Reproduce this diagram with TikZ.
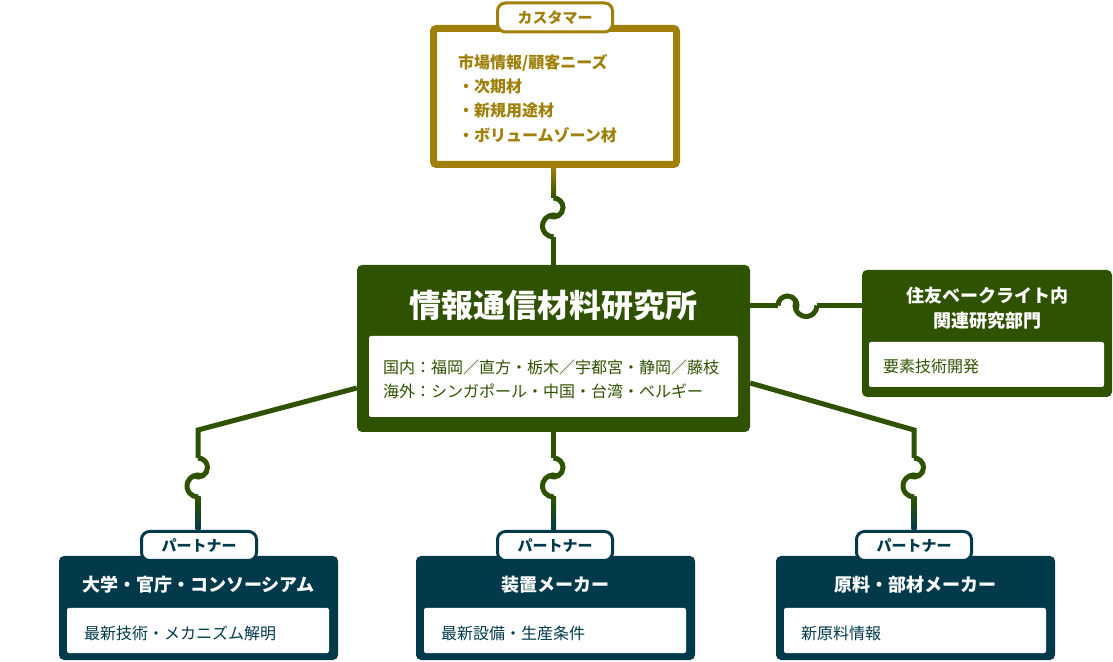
\documentclass[tikz,border=0pt]{standalone}
\usepackage{fontspec}
\setmainfont{Noto Sans CJK JP}
\usetikzlibrary{calc}
\definecolor{cgold}{HTML}{9E800A}
\definecolor{cgreen}{HTML}{2E5200}
\definecolor{cteal}{HTML}{023A4B}
\tikzset{
  connline/.style={line width=5pt, draw=cgreen},
  knot/.pic={
    \draw[connline] (0,0) arc[start angle=180,end angle=-20,radius=9.5pt];
    \draw[connline] (28pt,0) ++(160:11pt) arc[start angle=160,end angle=360,radius=11pt];
  },
  tabbox/.style={draw, line width=3pt, fill=white, rounded corners=8pt, minimum width=115pt, minimum height=29pt, inner sep=0pt, font=\fontsize{15}{18}\selectfont\bfseries},
  greenbox/.style={fill=cgreen, rounded corners=5pt, inner sep=0pt},
  tealbox/.style={fill=cteal, rounded corners=5pt, inner sep=0pt, minimum width=279pt, minimum height=104pt},
  whitebox/.style={fill=white, rounded corners=2pt, inner sep=0pt},
  titletext/.style={text=white, align=center, inner sep=0pt, font=\fontsize{18}{25}\selectfont\bfseries},
  bodytext/.style={anchor=west, align=left, inner sep=0pt, font=\fontsize{16}{24}\selectfont},
}
\begin{document}
\begin{tikzpicture}[x=1pt,y=1pt]
\useasboundingbox (0,0) rectangle (1113,661);

% customer
\node[draw=cgold, line width=7pt, fill=white, minimum width=243pt, minimum height=136pt, rounded corners=3pt, inner sep=0pt] (cust) at (555,564.5) {};
\node[tabbox, draw=cgold, text=cgold] (ctab) at (555,643.5) {カスタマー};
\node[bodytext, text=cgold, font=\fontsize{16}{24.4}\selectfont\bfseries] (ctext) at (458,562.5) {市場情報/顧客ニーズ\\・次期材\\・新規用途材\\・ボリュームゾーン材};

% main
\node[greenbox, minimum width=393pt, minimum height=167pt] (main) at (553.5,312.5) {};
\node[text=white, inner sep=0pt, font=\fontsize{32}{38}\selectfont\bfseries] (mtitle) at (553.5,356) {情報通信材料研究所};
\node[whitebox, minimum width=369pt, minimum height=81pt] (minner) at (553.5,284.5) {};
\node[bodytext, text=cgreen] (mtext) at (383,282) {国内：福岡／直方・栃木／宇都宮・静岡／藤枝\\海外：シンガポール・中国・台湾・ベルギー};

% right box
\node[greenbox, minimum width=250pt, minimum height=127pt] (rbox) at (987,327.5) {};
\node[titletext] (rtitle) at (987,352.5) {住友ベークライト内\\関連研究部門};
\node[whitebox, minimum width=235pt, minimum height=45pt] (rinner) at (986.5,296.5) {};
\node[bodytext, text=cgreen] (rtext) at (883,295) {要素技術開発};

% partner boxes
\node[tealbox] (p1) at (198.5,53) {};
\node[tealbox] (p2) at (555.5,53) {};
\node[tealbox] (p3) at (915.5,53) {};
\node[titletext] (p1title) at (198.5,76) {大学・官庁・コンソーシアム};
\node[titletext] (p2title) at (555.5,76) {装置メーカー};
\node[titletext] (p3title) at (915.5,76) {原料・部材メーカー};
\node[whitebox, minimum width=262pt, minimum height=45pt] (p1inner) at (198,30.5) {};
\node[whitebox, minimum width=262pt, minimum height=45pt] (p2inner) at (555,30.5) {};
\node[whitebox, minimum width=262pt, minimum height=45pt] (p3inner) at (915,30.5) {};
\node[bodytext, text=cteal] (p1text) at (84,28) {最新技術・メカニズム解明};
\node[bodytext, text=cteal] (p2text) at (441,28) {最新設備・生産条件};
\node[bodytext, text=cteal] (p3text) at (801,28) {新原料情報};

% connector coordinates
\coordinate (k1s) at (553.5,463);
\coordinate (k1e) at (553.5,424);
\coordinate (k2s) at (778,355.5);
\coordinate (k2e) at (817,355.5);
\coordinate (bl0) at (357,273);
\coordinate (bl1) at (198,231);
\coordinate (k3s) at (198,203);
\coordinate (k3e) at (198,164);
\coordinate (k4s) at (553.5,203);
\coordinate (k4e) at (553.5,164);
\coordinate (br0) at (750,278);
\coordinate (br1) at (914,231);
\coordinate (k5s) at (914,203);
\coordinate (k5e) at (914,164);

% top connector
\shade[top color=cgold, bottom color=cgreen] ($(k1s |- cust.south)+(-2.5,0)$) rectangle ($(k1s)+(2.5,0)$);
\path (k1s) pic[rotate=-90] {knot};
\draw[connline] (k1e) -- (k1e |- main.north);

% right connector
\draw[connline] (k2s -| main.east) -- (k2s);
\path (k2s) pic {knot};
\draw[connline] (k2e) -- (k2e -| rbox.west);

% bottom connectors
\draw[connline] (bl0 -| main.west) -- (bl1) -- (k3s);
\path (k3s) pic[rotate=-90] {knot};
\draw[connline] (main.south) -- (k4s);
\path (k4s) pic[rotate=-90] {knot};
\draw[connline] (br0 -| main.east) -- (br1) -- (k5s);
\path (k5s) pic[rotate=-90] {knot};

% partner tabs
\node[tabbox, draw=cteal, text=cteal] (t1) at (199,115) {パートナー};
\node[tabbox, draw=cteal, text=cteal] (t2) at (555,115) {パートナー};
\node[tabbox, draw=cteal, text=cteal] (t3) at (914,115) {パートナー};

\shade[top color=cgreen, bottom color=cteal] ($(k3e)+(-2.5,0)$) rectangle ($(k3e |- t1.north)+(2.5,0)$);
\shade[top color=cgreen, bottom color=cteal] ($(k4e)+(-2.5,0)$) rectangle ($(k4e |- t2.north)+(2.5,0)$);
\shade[top color=cgreen, bottom color=cteal] ($(k5e)+(-2.5,0)$) rectangle ($(k5e |- t3.north)+(2.5,0)$);
\end{tikzpicture}
\end{document}
